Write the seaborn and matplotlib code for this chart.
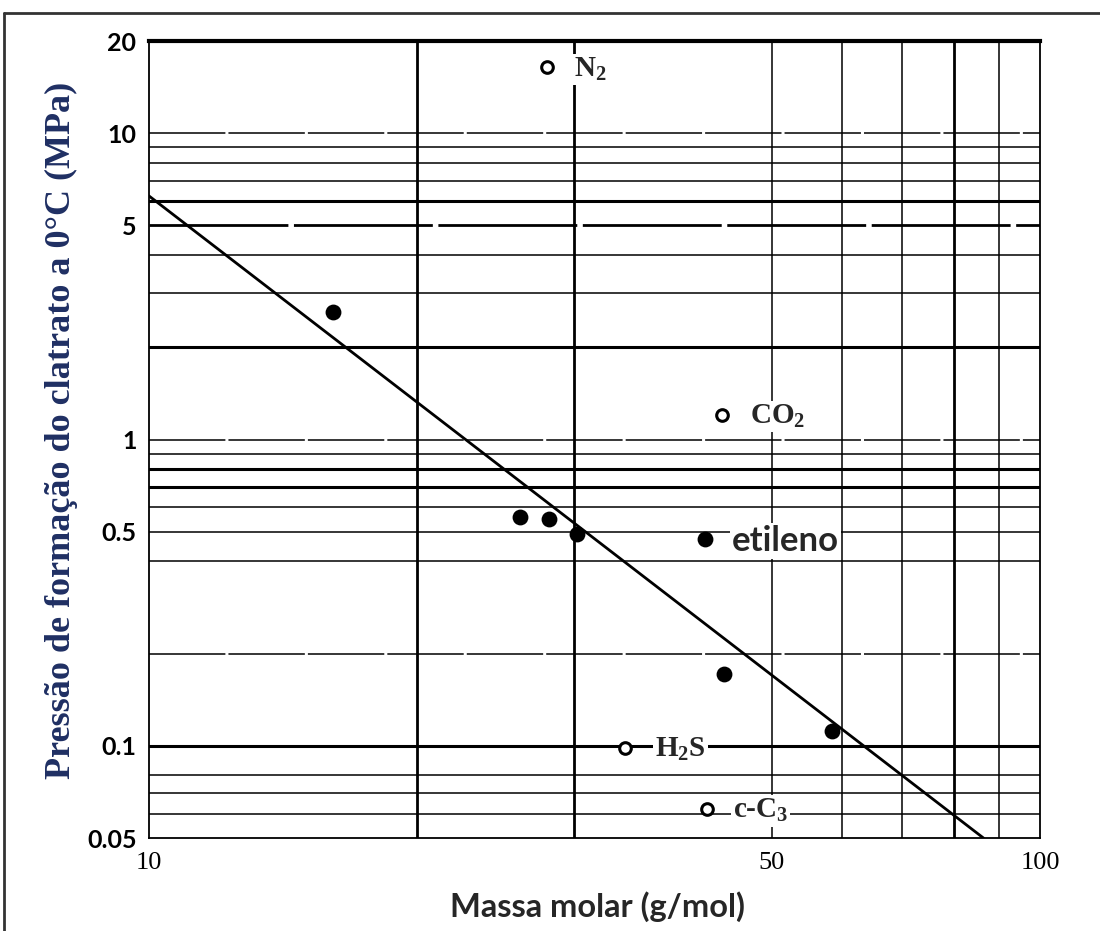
import matplotlib
matplotlib.use("Agg")
import matplotlib.pyplot as plt
from matplotlib.lines import Line2D
import seaborn as sns
import pandas as pd

# ---------------- data ----------------
filled_mass = [16.1, 26.1, 28.1, 30.2, 42.1, 44.2, 58.4]
filled_press = [2.6, 0.56, 0.55, 0.49, 0.474, 0.172, 0.112]
filled_name = ["", "", "", "", "etileno", "", ""]

open_mass = [28.0, 44.0, 34.2, 42.3]
open_press = [16.4, 1.2, 0.098, 0.062]
open_name = ["N$_2$", "CO$_2$", "H$_2$S", "c-C$_3$"]

fit_mass = [10.0, 86.4]
fit_press = [6.24, 0.05]

x_ticks = [10, 50, 100]
x_tick_labels = ["10", "50", "100"]
y_ticks = [0.05, 0.1, 0.5, 1, 5, 10, 20]
y_tick_labels = ["0.05", "0.1", "0.5", "1", "5", "10", "20"]

vgrid_thick = [20, 30, 80]
vgrid_thin = [50, 60, 70, 90]
hgrid_thick = [6, 2, 0.8, 0.7, 0.1]
hgrid_thin = [9, 8, 7, 4, 3, 0.9, 0.6, 0.5, 0.4, 0.08, 0.07, 0.06]
hgrid_dashed = [10, 5, 1, 0.2]

x_label = "Massa molar (g/mol)"
y_label = "Pressão de formação do clatrato a 0°C (MPa)"

# ---------------- style ----------------
sns.set_theme(style="white")
plt.rcParams["font.family"] = ["Liberation Serif", "DejaVu Serif"]
plt.rcParams["mathtext.fontset"] = "custom"
plt.rcParams["mathtext.rm"] = "Liberation Serif:bold"
plt.rcParams["mathtext.it"] = "Liberation Serif:italic:bold"
plt.rcParams["mathtext.bf"] = "Liberation Serif:bold"
plt.rcParams["mathtext.default"] = "rm"

fig = plt.figure(figsize=(11, 9.31), dpi=100)
ax = fig.add_axes([149 / 1100, 1 - 838 / 931, (1040 - 149) / 1100, (838 - 41) / 931])

ax.set_xscale("log")
ax.set_yscale("log")
ax.set_xlim(10, 100)
ax.set_ylim(0.05, 20)

# grid lines
for v in vgrid_thick:
    ax.axvline(v, color="black", lw=2.0, zorder=1)
for v in vgrid_thin:
    ax.axvline(v, color="black", lw=1.1, zorder=1)
for h in hgrid_thick:
    ax.axhline(h, color="black", lw=2.2, zorder=1)
for h in hgrid_thin:
    ax.axhline(h, color="black", lw=1.1, zorder=1)
for h in hgrid_dashed:
    lw = 2.0 if h == 5 else 1.1
    ax.axhline(h, color="black", lw=lw, dashes=(50, 2), zorder=1)

# fit line
fit_df = pd.DataFrame({"m": fit_mass, "p": fit_press})
sns.lineplot(data=fit_df, x="m", y="p", ax=ax, color="black", lw=2.0, zorder=3)

# filled points
fdf = pd.DataFrame({"m": filled_mass, "p": filled_press})
sns.scatterplot(data=fdf, x="m", y="p", ax=ax, color="black", s=130,
                edgecolor="black", linewidth=0, zorder=4)

# open points
odf = pd.DataFrame({"m": open_mass, "p": open_press})
sns.scatterplot(data=odf, x="m", y="p", ax=ax, facecolor="white", s=70,
                edgecolor="black", linewidth=2.2, zorder=5)

# labels
bbox = dict(facecolor="white", edgecolor="none", pad=1.5)
label_pos = {
    "N$_2$": (30.0, 16.1),
    "CO$_2$": (47.3, 1.19),
    "H$_2$S": (37.0, 0.097),
    "c-C$_3$": (45.2, 0.0613),
}
for name in open_name:
    x, y = label_pos[name]
    ax.text(x, y, name, fontsize=21, ha="left", va="center",
            family=["Liberation Serif"], fontweight="bold", bbox=bbox, zorder=6)
for name in filled_name:
    if name:
        ax.text(45.1, 0.466, name, fontsize=25, ha="left", va="center",
                family=["Lato"], fontweight="bold", bbox=bbox, zorder=6)

# ticks
ax.set_xticks(x_ticks)
ax.set_xticklabels(x_tick_labels, fontsize=19, family=["Liberation Serif"])
ax.set_xticks([], minor=True)
ax.set_yticks(y_ticks)
ax.set_yticklabels(y_tick_labels, fontsize=18, family=["Lato"], fontweight="bold")
ax.set_yticks([], minor=True)
ax.tick_params(axis="x", length=0, pad=10, colors="black")
ax.tick_params(axis="y", length=0, pad=9, colors="black")

ax.set_xlabel(x_label, fontsize=23.5, family=["Lato"], fontweight="bold")
ax.xaxis.set_label_coords((597 - 149) / 891, -(891 - 838) / 797)
ax.set_ylabel(y_label, fontsize=26, family=["Liberation Serif"], fontweight="bold",
              color="#1f2f63")
ax.yaxis.set_label_coords(-(149 - 78) / 891, (838 - 430) / 797)

for side in ["left", "right", "bottom"]:
    ax.spines[side].set_color("black")
    ax.spines[side].set_linewidth(1.3)
ax.spines["top"].set_color("black")
ax.spines["top"].set_linewidth(3)
ax.grid(False)

# outer frame of picture
fig.add_artist(Line2D([4 / 1100, 1], [1 - 13 / 931, 1 - 13 / 931],
                      transform=fig.transFigure, color="#333333", lw=2))
fig.add_artist(Line2D([4 / 1100, 4 / 1100], [0, 1 - 13 / 931],
                      transform=fig.transFigure, color="#333333", lw=2))

fig.savefig("out.png", dpi=100)
